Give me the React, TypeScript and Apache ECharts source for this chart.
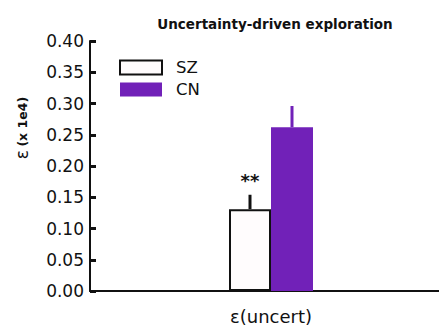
import React, { useEffect, useRef } from "react";
import * as echarts from "echarts";

const categories = ["ε(uncert)"];
const seriesNames = ["SZ", "CN"];
const meanSZ = [0.131];
const meanCN = [0.262];
const errTopSZ = [0.154];
const errTopCN = [0.296];
const yTicks = [0, 0.05, 0.1, 0.15, 0.2, 0.25, 0.3, 0.35, 0.4];
const significance = ["**"];
const yAxisTitle = ["ε", "(x 1e4)"];

const PURPLE = "#7121b8";
const FONT = "DejaVu Sans, Liberation Sans, Arial, sans-serif";

export default function App() {
  const ref = useRef<HTMLDivElement>(null);
  useEffect(() => {
    if (!ref.current) return;
    const chart = echarts.init(ref.current, null, { renderer: "svg" });
    const barW = 42;
    const makeErr = (tops: number[], means: number[], off: number, color: string, label?: string[]) => ({
      type: "custom",
      silent: true,
      z: 5,
      data: tops.map((t, i) => [i, means[i], t]),
      renderItem: (params: any, api: any) => {
        const b = api.coord([api.value(0), api.value(1)]);
        const t = api.coord([api.value(0), api.value(2)]);
        const children: any[] = [
          {
            type: "line",
            shape: { x1: b[0] + off, y1: b[1], x2: t[0] + off, y2: t[1] },
            style: { stroke: color, lineWidth: 3 },
          },
        ];
        if (label) {
          children.push({
            type: "text",
            x: t[0] + off,
            y: t[1] - 5,
            style: {
              text: label[params.dataIndex],
              fontSize: 18,
              fontFamily: FONT,
              fontWeight: "bold",
              fill: "#111",
              align: "center",
              verticalAlign: "bottom",
            },
          });
        }
        return { type: "group", children };
      },
    });
    chart.setOption({
      animation: false,
      title: {
        text: "Uncertainty-driven exploration",
        left: 270,
        textAlign: "center",
        top: 12,
        textStyle: { fontSize: 13.5, fontWeight: "bold", fontFamily: FONT, color: "#111" },
      },
      graphic: [
        {
          type: "text",
          x: 22,
          y: 128,
          rotation: Math.PI / 2,
          style: {
            text: `{e|${yAxisTitle[0]}} {b|${yAxisTitle[1]}}`,
            align: "center",
            verticalAlign: "middle",
            fill: "#111",
            rich: {
              e: { fontSize: 17, fontFamily: FONT, fontWeight: "normal", fill: "#111" },
              b: { fontSize: 12.5, fontFamily: FONT, fontWeight: "bold", fill: "#111" },
            },
          },
        },
      ],
      legend: {
        left: 119,
        top: 59,
        orient: "vertical",
        icon: "rect",
        itemWidth: 42,
        itemHeight: 14,
        itemGap: 5,
        padding: 0,
        data: seriesNames,
        textStyle: { fontSize: 16.5, lineHeight: 14, fontFamily: FONT, color: "#111", padding: [0, 0, 0, 9] },
      },
      grid: { left: 90, right: 0, top: 41, bottom: 38 },
      xAxis: {
        type: "category",
        data: categories,
        axisLine: { lineStyle: { color: "#111", width: 2 } },
        axisTick: { show: false },
        axisLabel: { fontSize: 18, fontFamily: FONT, color: "#111", margin: 16 },
      },
      yAxis: {
        type: "value",
        min: 0,
        max: 0.4,
        interval: 0.05,
        splitLine: { show: false },
        axisLine: { show: true, lineStyle: { color: "#111", width: 2 } },
        axisTick: { show: true, inside: true, length: 6, lineStyle: { color: "#111", width: 3 } },
        axisLabel: {
          fontSize: 17,
          fontFamily: FONT,
          color: "#111",
          margin: 6,
          formatter: (v: number) => (yTicks.some((t) => Math.abs(t - v) < 1e-9) ? v.toFixed(2) : ""),
        },
      },
      series: [
        {
          name: "SZ",
          type: "bar",
          data: meanSZ,
          barWidth: barW,
          barGap: "0%",
          itemStyle: { color: "#fffcfd", borderColor: "#111", borderWidth: 2 },
          z: 3,
        },
        {
          name: "CN",
          type: "bar",
          data: meanCN,
          barWidth: barW,
          barGap: "0%",
          itemStyle: { color: PURPLE },
          z: 2,
        },
        makeErr(errTopSZ, meanSZ, -barW / 2, "#111", significance),
        makeErr(errTopCN, meanCN, barW / 2, PURPLE),
      ],
    });
    return () => chart.dispose();
  }, []);
  return (
    <div style={{ width: 439, height: 329, position: "absolute", left: 0, top: 0, overflow: "hidden" }}>
      <div ref={ref} style={{ width: 452, height: 329 }} />
    </div>
  );
}
